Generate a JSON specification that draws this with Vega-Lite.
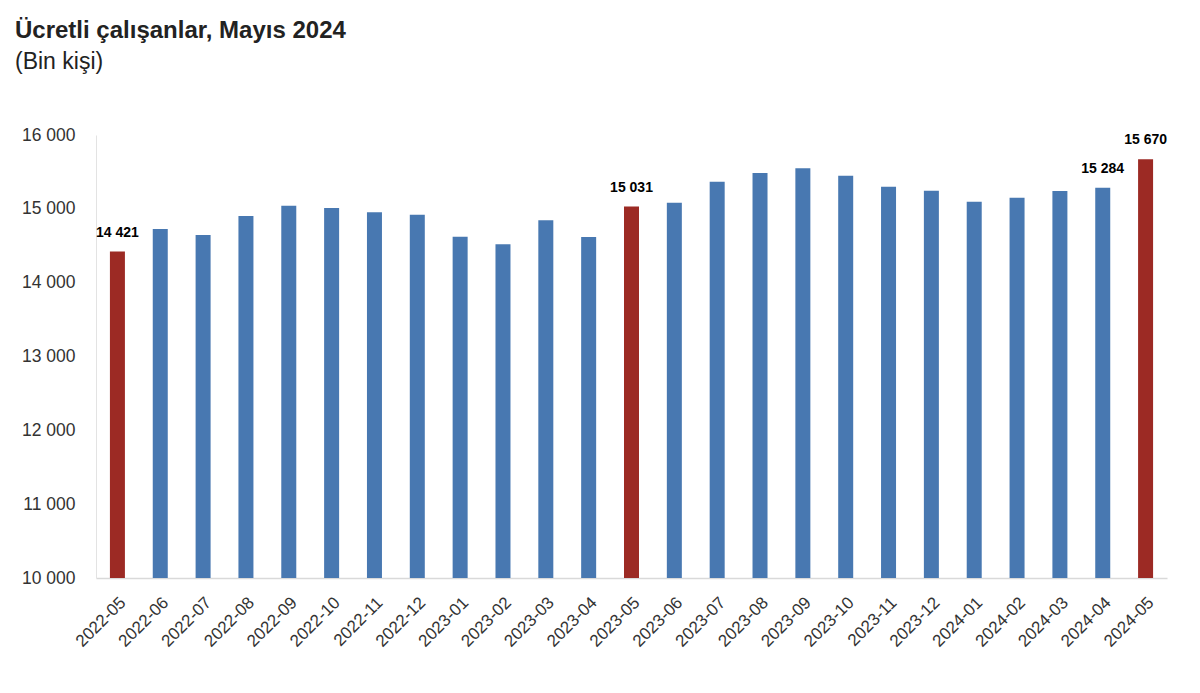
{
  "$schema": "https://vega.github.io/schema/vega-lite/v6.json",
  "autosize": {"type": "none"},
  "padding": {"left": 96, "top": 135, "right": 33, "bottom": 115},
  "width": 1071,
  "height": 443,
  "background": "white",
  "title": {
    "text": "Ücretli çalışanlar, Mayıs 2024",
    "subtitle": "(Bin kişi)",
    "anchor": "start",
    "frame": "group",
    "dx": -81,
    "offset": 52,
    "font": "Liberation Sans",
    "fontSize": 24,
    "fontWeight": "bold",
    "color": "#222222",
    "subtitleFont": "Liberation Sans",
    "subtitleFontSize": 23,
    "subtitleColor": "#222222",
    "subtitlePadding": 8
  },
  "config": {
    "view": {"stroke": null},
    "locale": {"number": {"decimal": ",", "thousands": " ", "grouping": [3], "currency": ["", ""]}}
  },
  "data": {
    "values": [
      {"month": "2022-05", "value": 14421, "group": "may", "show": true},
      {"month": "2022-06", "value": 14727, "group": "other", "show": false},
      {"month": "2022-07", "value": 14646, "group": "other", "show": false},
      {"month": "2022-08", "value": 14903, "group": "other", "show": false},
      {"month": "2022-09", "value": 15043, "group": "other", "show": false},
      {"month": "2022-10", "value": 15011, "group": "other", "show": false},
      {"month": "2022-11", "value": 14953, "group": "other", "show": false},
      {"month": "2022-12", "value": 14921, "group": "other", "show": false},
      {"month": "2023-01", "value": 14623, "group": "other", "show": false},
      {"month": "2023-02", "value": 14519, "group": "other", "show": false},
      {"month": "2023-03", "value": 14845, "group": "other", "show": false},
      {"month": "2023-04", "value": 14619, "group": "other", "show": false},
      {"month": "2023-05", "value": 15031, "group": "may", "show": true},
      {"month": "2023-06", "value": 15083, "group": "other", "show": false},
      {"month": "2023-07", "value": 15368, "group": "other", "show": false},
      {"month": "2023-08", "value": 15485, "group": "other", "show": false},
      {"month": "2023-09", "value": 15549, "group": "other", "show": false},
      {"month": "2023-10", "value": 15449, "group": "other", "show": false},
      {"month": "2023-11", "value": 15300, "group": "other", "show": false},
      {"month": "2023-12", "value": 15246, "group": "other", "show": false},
      {"month": "2024-01", "value": 15097, "group": "other", "show": false},
      {"month": "2024-02", "value": 15151, "group": "other", "show": false},
      {"month": "2024-03", "value": 15242, "group": "other", "show": false},
      {"month": "2024-04", "value": 15284, "group": "other", "show": true},
      {"month": "2024-05", "value": 15670, "group": "may", "show": true}
    ]
  },
  "encoding": {
    "x": {
      "field": "month",
      "type": "ordinal",
      "sort": null,
      "scale": {"paddingInner": 0, "paddingOuter": 0},
      "axis": {
        "title": null,
        "labelAngle": -45,
        "labelFont": "Liberation Sans",
        "labelFontSize": 17,
        "labelColor": "#333333",
        "labelPadding": 16,
        "ticks": false,
        "domainColor": "#d9d9d9",
        "domainWidth": 1.5
      }
    },
    "y": {
      "field": "value",
      "type": "quantitative",
      "scale": {"domain": [10000, 16000], "zero": false, "nice": false},
      "axis": {
        "title": null,
        "values": [10000, 11000, 12000, 13000, 14000, 15000, 16000],
        "format": ",d",
        "grid": false,
        "ticks": false,
        "labelFont": "Liberation Sans",
        "labelFontSize": 17.5,
        "labelColor": "#333333",
        "labelPadding": 21,
        "domainColor": "#e3e3e3",
        "domainWidth": 1
      }
    }
  },
  "layer": [
    {
      "mark": {"type": "bar", "size": 15, "clip": true},
      "encoding": {
        "color": {
          "field": "group",
          "type": "nominal",
          "scale": {"domain": ["may", "other"], "range": ["#9c2a24", "#4878b1"]},
          "legend": null
        }
      }
    },
    {
      "transform": [{"filter": "datum.show"}],
      "mark": {"type": "text", "baseline": "alphabetic", "dy": -15, "font": "Liberation Sans", "fontSize": 14, "fontWeight": "bold", "color": "#000000"},
      "encoding": {
        "text": {"field": "value", "type": "quantitative", "format": ",d"}
      }
    }
  ]
}
